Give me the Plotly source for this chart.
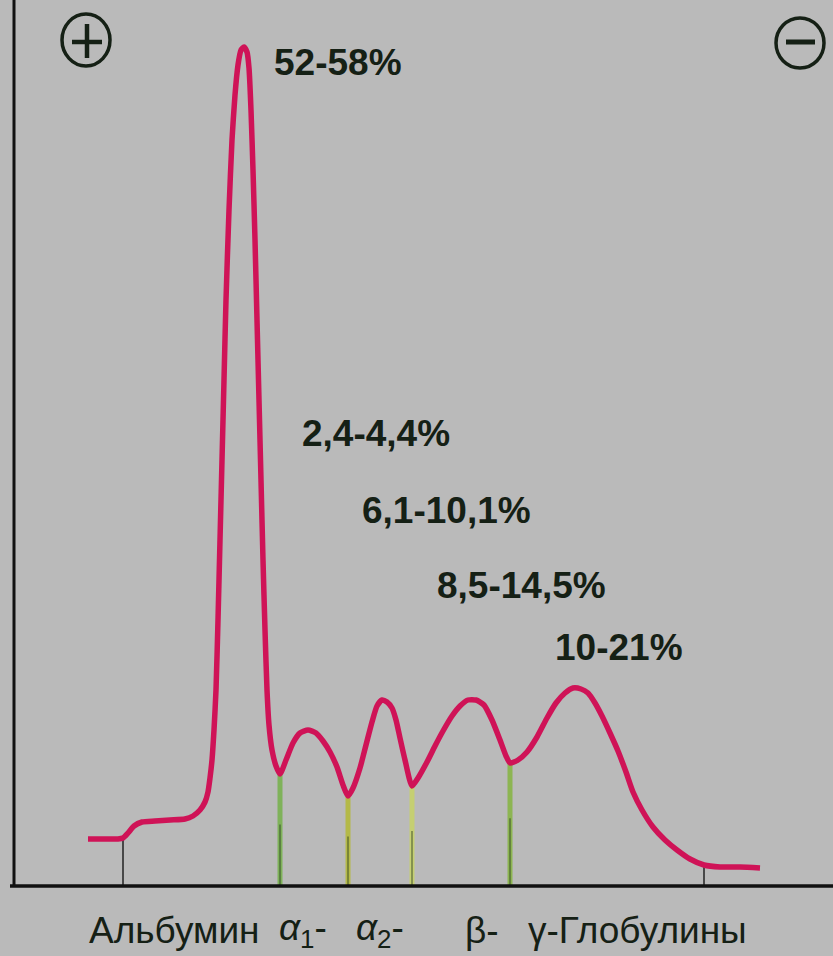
import numpy as np
import plotly.graph_objects as go

# Densitometric curve of serum protein electrophoresis
# (mobility in arbitrary units from the start line, optical density in arbitrary units)
mobility = [74, 91, 104, 109, 114, 120, 128, 141, 156, 171, 179, 186, 191, 194, 196, 198,
            200, 202, 204, 206, 208, 210, 212, 215, 218, 221, 224, 227, 230, 233, 235, 237,
            239, 241, 243, 245, 247, 249, 251, 253, 255, 258, 262, 266, 272, 279, 286, 294,
            302, 309, 316, 323, 329, 334, 339, 346, 352, 358, 363, 368, 373, 378, 382, 386,
            391, 398, 404, 413, 421, 429, 438, 446, 454, 462, 470, 478, 486, 492, 496, 504,
            513, 523, 533, 542, 551, 559, 567, 574, 581, 588, 596, 604, 612, 619, 628, 639,
            651, 663, 676, 690, 706, 726, 746]
density = [47, 47, 47, 48, 53, 60, 64, 65, 66, 67, 70, 76, 84, 94, 108, 126,
           156, 196, 266, 346, 426, 506, 586, 676, 746, 791, 821, 836, 839, 834, 818, 776,
           716, 646, 566, 486, 406, 326, 256, 196, 161, 136, 120, 112, 126, 143, 153, 156,
           153, 145, 134, 119, 101, 90, 98, 118, 141, 164, 180, 186, 184, 178, 166, 148,
           126, 100, 108, 124, 140, 155, 170, 180, 186, 186, 181, 166, 146, 130, 123, 126,
           134, 149, 168, 183, 193, 198, 197, 193, 183, 170, 153, 135, 114, 94, 76, 59,
           46, 36, 27, 21, 19, 19, 18]

# Fraction boundaries (mobility) and the start / end marks of the curve
fraction_bounds = [266, 334, 398, 496]
end_marks = [109, 690]

# Fraction shares, % of total protein
share_labels = ["52-58%", "2,4-4,4%", "6,1-10,1%", "8,5-14,5%", "10-21%"]
# Fraction names on the axis
fraction_names = ["Альбумин", "<i>α</i><sub>1</sub>-", "<i>α</i><sub>2</sub>-", "β-", "γ-Глобулины"]

# ---- layout constants (positions and styles) ----
BG = "#bababa"
INK = "#152015"
CURVE = "#cf1357"
share_pos = [(258, 824), (286, 453), (346, 376), (421, 301), (539, 239)]
name_pos = [160, 289, 366, 468, 623]
NAME_Y = -44

fig = go.Figure()

# fraction separators (height taken from the curve)
sep_colors = ["#7fb25a", "#b4b948", "#c5cf72", "#8db552"]
for xb, col in zip(fraction_bounds, sep_colors):
    yb = float(np.interp(xb, mobility, density))
    fig.add_trace(go.Scatter(x=[xb, xb], y=[0, yb], mode="lines",
                             line=dict(color=col, width=5), hoverinfo="skip",
                             showlegend=False))
    fig.add_trace(go.Scatter(x=[xb, xb], y=[0, yb * 0.55], mode="lines",
                             line=dict(color="rgba(40,60,30,0.55)", width=1.5),
                             hoverinfo="skip", showlegend=False))

# start / end marks
for xm in end_marks:
    ym = float(np.interp(xm, mobility, density))
    fig.add_trace(go.Scatter(x=[xm, xm], y=[0, ym], mode="lines",
                             line=dict(color="#222222", width=1.5), hoverinfo="skip",
                             showlegend=False))

# main curve
fig.add_trace(go.Scatter(x=mobility, y=density, mode="lines",
                         line=dict(color=CURVE, width=5.5, shape="spline", smoothing=0.6),
                         showlegend=False))

# share labels
for txt, (px, py) in zip(share_labels, share_pos):
    fig.add_annotation(x=px, y=py, xref="x", yref="y", text=txt, showarrow=False,
                       xanchor="left", yanchor="middle",
                       font=dict(family="Liberation Sans, Arial, sans-serif", size=37,
                                 color=INK, weight="bold"))

# fraction names
for txt, px in zip(fraction_names, name_pos):
    fig.add_annotation(x=px, y=NAME_Y, xref="x", yref="y", text=txt, showarrow=False,
                       xanchor="center", yanchor="middle",
                       font=dict(family="Liberation Sans, Arial, sans-serif", size=37,
                                 color=INK))

shapes = [
    # axes
    dict(type="line", xref="x", yref="y", x0=0, x1=0, y0=0, y1=900,
         line=dict(color="#111111", width=3)),
    dict(type="line", xref="x", yref="y", x0=-4, x1=830, y0=0, y1=0,
         line=dict(color="#111111", width=3.5)),
    # (+) anode
    dict(type="circle", xref="x", yref="y", x0=48, x1=96, y0=820, y1=872,
         line=dict(color=INK, width=3.5)),
    dict(type="line", xref="x", yref="y", x0=58, x1=88, y0=844, y1=844,
         line=dict(color=INK, width=4.5)),
    dict(type="line", xref="x", yref="y", x0=73, x1=73, y0=828, y1=862,
         line=dict(color=INK, width=4.5)),
    # (-) cathode
    dict(type="circle", xref="x", yref="y", x0=762, x1=810, y0=818, y1=868,
         line=dict(color=INK, width=3.5)),
    dict(type="line", xref="x", yref="y", x0=772, x1=801, y0=844, y1=844,
         line=dict(color=INK, width=5)),
]

fig.update_layout(
    width=833, height=956,
    margin=dict(l=0, r=0, t=0, b=0),
    paper_bgcolor=BG, plot_bgcolor=BG,
    shapes=shapes,
    xaxis=dict(range=[-14, 819], visible=False, fixedrange=True),
    yaxis=dict(range=[-70, 886], visible=False, fixedrange=True),
    showlegend=False,
)

fig.write_html(
    "out.html",
    config={"displayModeBar": False, "staticPlot": True},
    post_script="document.body.style.margin='0px';document.body.style.padding='0px';"
                "document.body.style.overflow='hidden';document.body.style.background='" + BG + "';",
)
